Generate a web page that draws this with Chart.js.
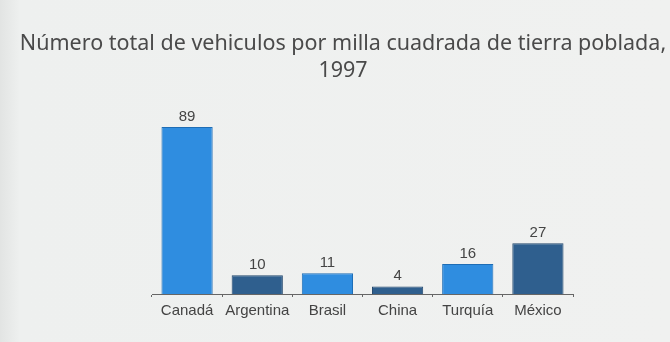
<!DOCTYPE html>
<html lang="es">
<head>
  <meta charset="UTF-8" />
  <title>Vehículos por milla cuadrada</title>
  <script src="https://cdn.jsdelivr.net/npm/chart.js"></script>
  <style>
    html, body {
      margin: 0;
      padding: 0;
      background: #eceeed;
    }
    .wrap {
      width: 670px;
      height: 342px;
      background: linear-gradient(to right, #e2e4e3 0px, #eef0ef 20px, #f0f1f0 100%);
    }
  </style>
</head>
<body>
  <div class="wrap">
    <canvas id="grafica" width="670" height="342"></canvas>
  </div>

  <script>
    const paises = ['Canadá', 'Argentina', 'Brasil', 'China', 'Turquía', 'México'];
    const vehiculos = [89, 10, 11, 4, 16, 27];
    const colores = ['#2f8de0', '#2f5f8e', '#2f8de0', '#2f5f8e', '#2f8de0', '#2f5f8e'];
    const bordes = ['#1e6db5', '#22476d', '#1e6db5', '#22476d', '#1e6db5', '#22476d'];
    const titulo = ['Número total de vehiculos por milla cuadrada de tierra poblada,', '1997'];

    // título centrado sobre toda la página, no sólo sobre el área del gráfico
    const tituloPagina = {
      id: 'tituloPagina',
      afterDraw(chart) {
        const ctx = chart.ctx;
        ctx.save();
        ctx.font = '21.5px "Noto Sans", sans-serif';
        ctx.fillStyle = '#4a4a4a';
        ctx.textAlign = 'center';
        ctx.textBaseline = 'alphabetic';
        ctx.fillText(titulo[0], 343, 50);
        ctx.fillText(titulo[1], 343, 77);
        ctx.restore();
      }
    };

    // etiquetas con el valor encima de cada barra
    const etiquetas = {
      id: 'etiquetas',
      afterDatasetsDraw(chart) {
        const ctx = chart.ctx;
        const meta = chart.getDatasetMeta(0);
        ctx.save();
        ctx.font = '15px "Liberation Sans", Arial, sans-serif';
        ctx.fillStyle = '#444';
        ctx.textAlign = 'center';
        ctx.textBaseline = 'alphabetic';
        meta.data.forEach((barra, i) => {
          ctx.fillText(vehiculos[i], barra.x, barra.y - 6);
        });
        ctx.restore();
      }
    };

    new Chart(document.getElementById('grafica'), {
      type: 'bar',
      data: {
        labels: paises,
        datasets: [{
          data: vehiculos,
          backgroundColor: colores,
          borderColor: bordes,
          borderWidth: 1,
          categoryPercentage: 1,
          barPercentage: 0.73
        }]
      },
      options: {
        responsive: false,
        animation: false,
        layout: { padding: { left: 152, right: 97, top: 127, bottom: 17 } },
        plugins: {
          legend: { display: false },
          tooltip: { enabled: false },
          title: { display: false }
        },
        scales: {
          y: {
            display: false,
            min: 0,
            max: 89
          },
          x: {
            border: { display: true, color: '#666', width: 1 },
            grid: {
              offset: true,
              drawOnChartArea: false,
              drawTicks: true,
              tickLength: 3,
              color: '#666'
            },
            ticks: {
              color: '#444',
              padding: 5,
              autoSkip: false,
              maxRotation: 0,
              minRotation: 0,
              font: { family: '"Liberation Sans", Arial, sans-serif', size: 15 }
            }
          }
        }
      },
      plugins: [etiquetas, tituloPagina]
    });
  </script>
</body>
</html>
